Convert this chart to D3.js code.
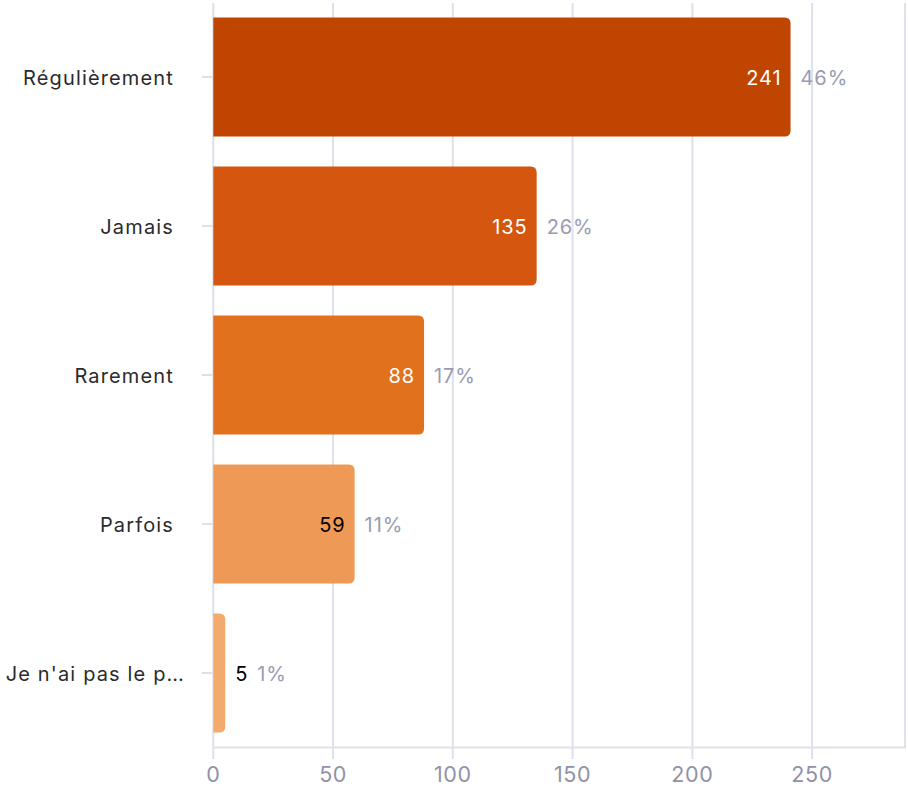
<!DOCTYPE html>
<html><head><meta charset="utf-8">
<script src="https://cdn.jsdelivr.net/npm/d3@7"></script>
<style>
html,body{margin:0;padding:0;background:#fff;}
svg{display:block;font-family:Inter,"Noto Sans",sans-serif;}
</style></head>
<body><svg id="c" width="908" height="788"></svg>
<script>
const categories = ["Régulièrement","Jamais","Rarement","Parfois","Je n'ai pas le p…"];
const values = [241,135,88,59,5];
const percents = ["46%","26%","17%","11%","1%"];
const colors = ["#c04500","#d5560f","#e1711c","#ee9a56","#f3aa6d"];
const labelColors = ["#ffffff","#ffffff","#ffffff","#000000","#000000"];
const xTicks = [0,50,100,150,200,250];

const svg = d3.select("#c");
const x = d3.scaleLinear().domain([0, d3.max(values)*1.2]).range([213.3, 906]);
const y = d3.scaleBand().domain(categories).range([2.5, 747.5]).paddingInner(0.2).paddingOuter(0.1);
const gridColor = "#dfe0ea";

// gridlines
svg.append("g").selectAll("line").data(xTicks).join("line")
  .attr("x1", d=>x(d)).attr("x2", d=>x(d)).attr("y1", 3).attr("y2", 759)
  .attr("stroke", gridColor).attr("stroke-width", 2);
// right border
svg.append("line").attr("x1", x.range()[1]-1).attr("x2", x.range()[1]-1)
  .attr("y1", 3).attr("y2", 748).attr("stroke", gridColor).attr("stroke-width", 2);
// bottom axis line
svg.append("line").attr("x1", x(0)).attr("x2", x.range()[1]).attr("y1", 747.5).attr("y2", 747.5)
  .attr("stroke", gridColor).attr("stroke-width", 2);
// x tick labels
svg.append("g").selectAll("text").data(xTicks).join("text")
  .attr("x", d=>x(d)).attr("y", 782).attr("text-anchor","middle")
  .attr("font-size", 21.5).attr("letter-spacing", "0.6px").attr("fill", "#9092a8").text(d=>d);
// y ticks
svg.append("g").selectAll("line").data(categories).join("line")
  .attr("x1", 202).attr("x2", x(0)).attr("y1", d=>y(d)+y.bandwidth()/2).attr("y2", d=>y(d)+y.bandwidth()/2)
  .attr("stroke", gridColor).attr("stroke-width", 2);
// y labels (truncated label sits a little further right, as in the reference)
svg.append("g").selectAll("text").data(categories).join("text")
  .attr("x", d=> d.endsWith("…") ? 185 : 174)
  .attr("y", d=>y(d)+y.bandwidth()/2 + 0.5).attr("dy","0.35em")
  .attr("text-anchor","end").attr("font-size", 20).attr("letter-spacing","1.15px")
  .attr("fill","#2b2b2b").text(d=>d);

// bars with right rounded corners
function barPath(x0, x1, y0, h, r){
  const w = x1-x0; r = Math.min(r, w, h/2);
  return `M${x0},${y0}H${x1-r}Q${x1},${y0} ${x1},${y0+r}V${y0+h-r}Q${x1},${y0+h} ${x1-r},${y0+h}H${x0}Z`;
}
const data = categories.map((c,i)=>({c, v:values[i], p:percents[i], col:colors[i], lc:labelColors[i]}));
svg.append("g").selectAll("path").data(data).join("path")
  .attr("d", d=>barPath(x(0), x(d.v), y(d.c), y.bandwidth(), 6))
  .attr("fill", d=>d.col);

const lg = svg.append("g").attr("font-size", 20).attr("letter-spacing","0.9px");
data.forEach(d=>{
  const cy = y(d.c)+y.bandwidth()/2 + 0.5;
  const inside = (x(d.v)-x(0)) > 40;
  let pctX;
  if (inside){
    lg.append("text").attr("x", x(d.v)-9).attr("y", cy).attr("dy","0.35em")
      .attr("text-anchor","end").attr("fill", d.lc).text(d.v);
    pctX = x(d.v)+10;
  } else {
    const t = lg.append("text").attr("x", x(d.v)+10).attr("y", cy).attr("dy","0.35em")
      .attr("fill", "#000").text(d.v);
    pctX = x(d.v)+10 + t.node().getComputedTextLength() + 9;
  }
  lg.append("text").attr("x", pctX).attr("y", cy).attr("dy","0.35em")
    .attr("fill", "#9a9bb2").text(d.p);
});
</script></body></html>
